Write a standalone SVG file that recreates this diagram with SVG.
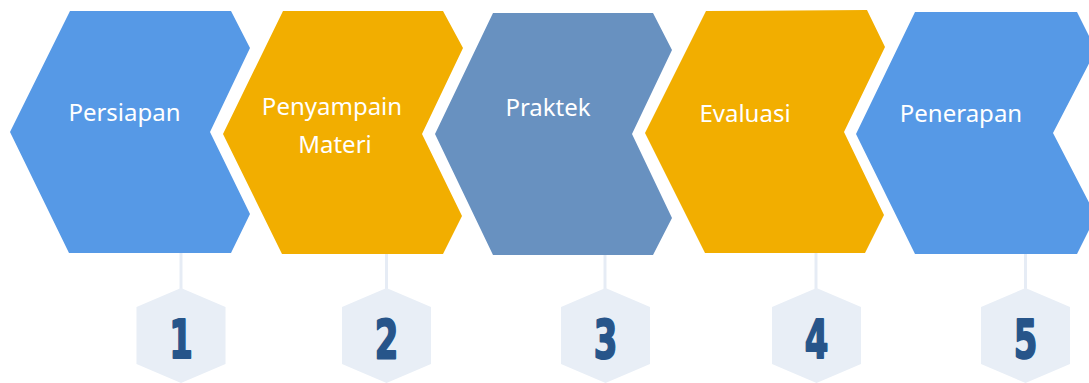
<svg xmlns="http://www.w3.org/2000/svg" xmlns:xlink="http://www.w3.org/1999/xlink" width="1089" height="383" viewBox="0 0 1089 383">
  <style>
    .blue { fill: #5699E6; }
    .orange { fill: #F2AE00; }
    .steel { fill: #6891C0; }
    .label { font-family: "Noto Sans", "Open Sans", sans-serif; font-size: 24px; fill: #FFFFFF; text-anchor: middle; }
    .badge { fill: #E8EEF6; }
    .num { font-family: "DejaVu Sans", "Liberation Sans", sans-serif; font-weight: 700; font-size: 53px; fill: #27558A; stroke: #27558A; stroke-width: 2; stroke-linejoin: round; text-anchor: middle; }
    .link { stroke: #E6ECF5; stroke-width: 3; fill: none; }
  </style>
  <defs>
    <!-- pointy-top hexagon badge, centred on x = 0 -->
    <polygon id="hex" points="0,288 44.5,307 44.5,364 0,383 -44.5,364 -44.5,307"/>
  </defs>

  <rect width="1089" height="383" fill="#FFFFFF"/>

  <!-- vertical links from each step to its number badge -->
  <g id="connectors">
    <line class="link" x1="181" y1="247" x2="181" y2="290"/>
    <line class="link" x1="386.5" y1="247" x2="386.5" y2="290"/>
    <line class="link" x1="605" y1="247" x2="605" y2="290"/>
    <line class="link" x1="816" y1="247" x2="816" y2="290"/>
    <line class="link" x1="1025.5" y1="247" x2="1025.5" y2="290"/>
  </g>

  <g id="step1">
    <polygon class="blue" points="10,132 70,11 231,11 250,48 210,132 250,214 231,253 69,253"/>
    <text class="label" x="124.5" y="121">Persiapan</text>
  </g>

  <g id="step2">
    <polygon class="orange" points="223,134 283,11 443,11 463,48 422,134 462,216 443,254 282,254"/>
    <text class="label" x="332" y="115">Penyampain</text>
    <text class="label" x="335" y="153">Materi</text>
  </g>

  <g id="step3">
    <polygon class="steel" points="435,134 493,13 653,13 672,50 632,134 672,218 653,255 493,255"/>
    <text class="label" x="548" y="116">Praktek</text>
  </g>

  <g id="step4">
    <polygon class="orange" points="645,133 706,11 867,10 885,47 844,132 884,215 865,253 705,253"/>
    <text class="label" x="745" y="122">Evaluasi</text>
  </g>

  <g id="step5">
    <polygon class="blue" points="856,134 915,12 1077,12 1096,50 1053,133 1096,216 1077,254 915,254"/>
    <text class="label" x="961" y="122">Penerapan</text>
  </g>

  <g id="badge1">
    <use href="#hex" xlink:href="#hex" class="badge" x="181"/>
    <text class="num" transform="translate(181,358) scale(0.64,1)">1</text>
  </g>
  <g id="badge2">
    <use href="#hex" xlink:href="#hex" class="badge" x="386.5"/>
    <text class="num" transform="translate(386.5,358) scale(0.64,1)">2</text>
  </g>
  <g id="badge3">
    <use href="#hex" xlink:href="#hex" class="badge" x="605.5"/>
    <text class="num" transform="translate(605.5,358) scale(0.64,1)">3</text>
  </g>
  <g id="badge4">
    <use href="#hex" xlink:href="#hex" class="badge" x="816.5"/>
    <text class="num" transform="translate(816.5,358) scale(0.64,1)">4</text>
  </g>
  <g id="badge5">
    <use href="#hex" xlink:href="#hex" class="badge" x="1025.5"/>
    <text class="num" transform="translate(1025.5,358) scale(0.64,1)">5</text>
  </g>
</svg>
